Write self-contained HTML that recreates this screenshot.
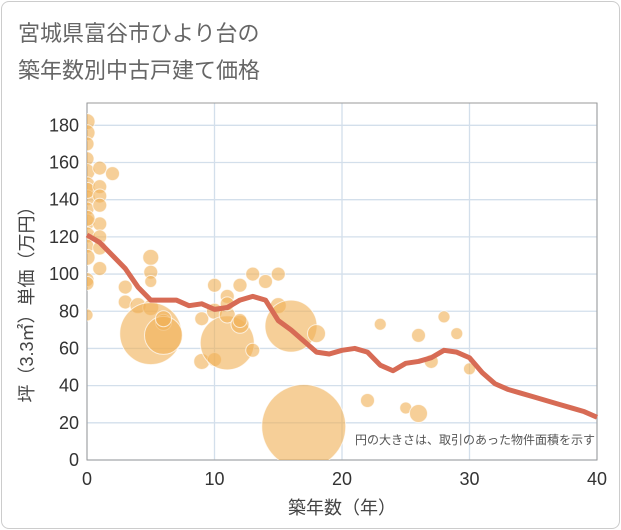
<!DOCTYPE html>
<html><head><meta charset="utf-8"><style>
body{margin:0;background:#fff;font-family:"Liberation Sans","Noto Sans CJK JP",sans-serif}
#card{position:absolute;left:1px;top:1px;width:617px;height:526px;border:1px solid #ccc;border-radius:8px;background:#fff}
.t{position:absolute;left:18px;font-size:22px;color:#666}
</style></head><body>
<div id="card"></div>
<div class="t" style="top:16px">宮城県富谷市ひより台の</div>
<div class="t" style="top:53px">築年数別中古戸建て価格</div>
<svg id="c" width="621" height="530" style="position:absolute;left:0;top:0"></svg>
<script>
const xTicks=[0,10,20,30,40];
const yTicks=[0,20,40,60,80,100,120,140,160,180];
const lineX=[0,1,2,3,4,5,6,7,8,9,10,11,12,13,14,15,16,17,18,19,20,21,22,23,24,25,26,27,28,29,30,31,32,33,34,35,36,37,38,39,40];
const lineY=[121,117,110,103,93,86,86,86,83,84,81,82,86,88,86,75,70,64,58,57,59,60,58,51,48,52,53,55,59,58,55,47,41,38,36,34,32,30,28,26,23];
const bubX=[0,0,0,0,0,0,0,0,0,0,0,0,0,0,0,0,1,1,1,1,1,1,1,1,2,0,3,3,4,5,5,5,5,5,6,6,6,9,9,10,10,10,11,11,11,11,12,12,12,13,13,14,15,15,16,17,18,22,23,25,26,26,27,28,29,30];
const bubY=[182,176,170,162,155,148,141,135,128,121,115,109,97,95,78,145,157,147,142,137,127,120,114,103,154,130,93,85,83,109,101,96,82,68,74,67,76,76,53,94,80,54,63,78,88,84,94,73,75,100,59,96,100,83,72,18,68,32,73,28,25,67,53,77,68,49];
const bubR=[8,8,7,7,8,8,8,7,8,8,7,8,7,7,6,8,7,7,7,7,7,7,7,7,7,8,7,7,8,8,7,6,8,31,8,19,8,7,8,7,8,7,27,8,7,7,7,9,7,7,7,7,7,8,26,42,9,7,6,6,9,7,7,6,6,6];
const L=87,R=597,T=103,B=460;
const sx=v=>L+(R-L)*v/40, sy=v=>B-(B-T)*v/192;
const NS="http://www.w3.org/2000/svg", svg=document.getElementById('c');
function mk(tag,a,p){const e=document.createElementNS(NS,tag);for(const k in a)e.setAttribute(k,a[k]);(p||svg).appendChild(e);return e;}
const defs=mk('defs',{});
const cp=mk('clipPath',{id:'pa'},defs);
mk('rect',{x:L,y:T,width:R-L,height:B-T},cp);
const gg=mk('g',{});


yTicks.forEach(v=>{const l=mk('line',{x1:L,x2:R,y1:sy(v),y2:sy(v),stroke:'#d3dfeb','stroke-width':1.3},gg);


const t=mk('text',{x:L-8,y:sy(v)+6,'text-anchor':'end','font-size':18,fill:'#333'});t.textContent=v;

});
xTicks.forEach(v=>{const l=mk('line',{x1:sx(v),x2:sx(v),y1:T,y2:B,stroke:'#d3dfeb','stroke-width':1.3},gg);


const t=mk('text',{x:sx(v),y:B+25,'text-anchor':'middle','font-size':18,fill:'#333'});t.textContent=v;

});
mk('rect',{x:L,y:T,width:R-L,height:B-T,fill:'none',stroke:'#999','stroke-width':1});
const bg=mk('g',{'clip-path':'url(#pa)'});


bubX.forEach((x,i)=>{const c=mk('circle',{cx:sx(x),cy:sy(bubY[i]),r:bubR[i],fill:'rgba(240,178,88,0.62)',stroke:'rgba(255,255,255,0.7)','stroke-width':1},bg);

});
const p=mk('polyline',{points:lineX.map((x,i)=>sx(x)+','+sy(lineY[i])).join(' '),fill:'none',stroke:'#d76b55','stroke-width':5,'stroke-linejoin':'round'});


const n=mk('text',{x:595,y:444,'text-anchor':'end','font-size':12,fill:'#555'});n.textContent='円の大きさは、取引のあった物件面積を示す';


const xt=mk('text',{x:342,y:514,'text-anchor':'middle','font-size':18,fill:'#444'});xt.textContent='築年数（年）';


const yt=mk('text',{x:0,y:0,'text-anchor':'middle','font-size':18,fill:'#444',transform:'translate(33,300) rotate(-90)'});yt.textContent='坪（3.3㎡）単価（万円）';


</script>
</body></html>
